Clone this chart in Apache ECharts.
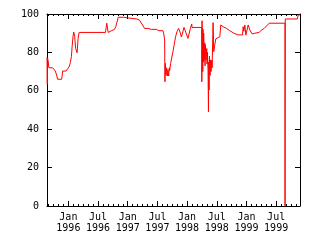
<!DOCTYPE html>
<html><head><meta charset="utf-8">
<script src="https://cdn.jsdelivr.net/npm/echarts@6/dist/echarts.min.js"></script>
<style>html,body{margin:0;padding:0;background:#fff}#c{width:320px;height:240px}</style>
</head><body><div id="c"></div>
<script>
// decimal-year dates
const dates = [1995.640,1995.645,1995.650,1995.662,1995.671,1995.735,1995.764,1995.780,1995.802,1995.819,
1995.887,1995.904,1995.961,1995.988,1996.017,1996.034,1996.051,1996.063,1996.079,1996.090,
1996.106,1996.123,1996.147,1996.164,1996.181,1996.625,1996.647,1996.671,1996.721,1996.777,
1996.799,1996.840,1996.929,1996.958,1997.042,1997.059,1997.154,1997.171,1997.199,1997.238,
1997.284,1997.340,1997.397,1997.481,1997.525,1997.593,1997.605,1997.622,1997.627,1997.633,
1997.644,1997.655,1997.667,1997.677,1997.689,1997.701,1997.706,1997.723,1997.745,1997.762,
1997.791,1997.807,1997.829,1997.858,1997.887,1997.904,1997.948,1997.981,1998.015,1998.049,
1998.078,1998.083,1998.247,1998.248,1998.252,1998.264,1998.269,1998.275,1998.280,1998.286,
1998.297,1998.302,1998.309,1998.319,1998.331,1998.336,1998.343,1998.353,1998.360,1998.365,
1998.370,1998.377,1998.387,1998.394,1998.404,1998.416,1998.421,1998.438,1998.449,1998.466,
1998.483,1998.505,1998.551,1998.568,1998.606,1998.664,1998.720,1998.787,1998.860,1998.934,
1998.944,1998.956,1998.973,1998.990,1999.002,1999.029,1999.057,1999.096,1999.142,1999.215,
1999.255,1999.299,1999.340,1999.383,1999.649,1999.650,1999.654,1999.856,1999.873,1999.902];
const values = [77.4,63.4,77,75,72,72,71.5,70.3,68.2,66,
66,70.3,70.3,71.5,72.8,74.8,77.8,83,88.4,90.6,
88.4,82,79.8,87.3,90.4,90.4,95.2,90.4,91.2,92,
93.4,98.3,98.3,97.8,97.8,97.4,97.4,98.3,96.8,94.8,
92.5,92.5,92,92,91.3,91.3,90,86.5,64.7,74.3,
68,72,67.7,71,67.7,72,70.5,74.3,75,80.4,
85.6,88.2,90.8,92.5,90,88,93,90.2,87.3,91.7,
94.8,93,93,64.7,96.5,70,92,75,90,76,
85,73,84,76,82,74,80,70,49.1,75,
60.4,78,68,76,70,76,72,95.5,80.4,83.9,
87,88,88.2,94.3,93.4,92.5,91.3,90,89.1,89.1,
93.4,91,94.3,89,88.2,94.3,91.7,89.6,90,90.4,
91.7,92.5,93.8,95.2,95.2,0,97.4,97.4,99.5,99.5];
const xMin = 1995.640, xMax = 1999.902;
const monthNames = ['Jan','Jul'];
const yTicks = [0,20,40,60,80,100];

const majors = [], minors = [];
for (let y = 1995; y <= 1999; y++) {
  for (let m = 0; m < 12; m++) {
    const v = y + m / 12;
    if (v < xMin || v > xMax) continue;
    minors.push(v);
    if (m === 0 || m === 6) majors.push(v);
  }
}
const font = {fontFamily: 'DejaVu Sans Mono', fontSize: 10, color: '#000'};
const lineS = {lineStyle: {color: '#000', width: 1}};
function fmt(v) {
  const yr = Math.floor(v + 1e-6);
  const m = Math.round((v - yr) * 12);
  return (m === 0 ? monthNames[0] : monthNames[1]) + '\n' + yr;
}
const gridBox = {left: 47, right: 20, top: 14, bottom: 34};
const chart = echarts.init(document.getElementById('c'), null, {renderer: 'canvas'});
chart.setOption({
  animation: false,
  grid: [Object.assign({}, gridBox), Object.assign({}, gridBox)],
  xAxis: [
    {gridIndex: 0, type: 'value', position: 'bottom', min: xMin, max: xMax,
     axisLine: {show: true, onZero: false, lineStyle: {color: '#000', width: 1}},
     axisTick: {show: true, inside: true, length: 5, customValues: majors, lineStyle: {color: '#000'}},
     axisLabel: Object.assign({show: true, customValues: majors, formatter: fmt, margin: 6, lineHeight: 11, align: 'center'}, font),
     splitLine: {show: false}},
    {gridIndex: 0, type: 'value', position: 'top', min: xMin, max: xMax,
     axisLine: {show: true, onZero: false, lineStyle: {color: '#000', width: 1}},
     axisTick: {show: true, inside: true, length: 5, customValues: majors, lineStyle: {color: '#000'}},
     axisLabel: {show: false}, splitLine: {show: false}},
    {gridIndex: 1, type: 'value', position: 'bottom', min: xMin, max: xMax,
     axisLine: {show: false, onZero: false},
     axisTick: {show: true, inside: true, length: 2, customValues: minors, lineStyle: {color: '#000'}},
     axisLabel: {show: false}, splitLine: {show: false}},
    {gridIndex: 1, type: 'value', position: 'top', min: xMin, max: xMax,
     axisLine: {show: false, onZero: false},
     axisTick: {show: true, inside: true, length: 2, customValues: minors, lineStyle: {color: '#000'}},
     axisLabel: {show: false}, splitLine: {show: false}}
  ],
  yAxis: [
    {gridIndex: 0, type: 'value', position: 'left', min: 0, max: 100, interval: 20,
     axisLine: {show: true, onZero: false, lineStyle: {color: '#000', width: 1}},
     axisTick: {show: true, inside: true, length: 5, lineStyle: {color: '#000'}},
     axisLabel: Object.assign({show: true, margin: 8}, font), splitLine: {show: false}},
    {gridIndex: 0, type: 'value', position: 'right', min: 0, max: 100, interval: 20,
     axisLine: {show: true, onZero: false, lineStyle: {color: '#000', width: 1}},
     axisTick: {show: true, inside: true, length: 5, lineStyle: {color: '#000'}},
     axisLabel: {show: false}, splitLine: {show: false}},
    {gridIndex: 1, type: 'value', min: 0, max: 100, show: false}
  ],
  series: [{
    type: 'line', xAxisIndex: 0, yAxisIndex: 0,
    data: dates.map((d, i) => [d, values[i]]),
    showSymbol: false, symbol: 'none',
    lineStyle: {color: '#ff0000', width: 1}, itemStyle: {color: '#ff0000'}
  }]
});
</script></body></html>
